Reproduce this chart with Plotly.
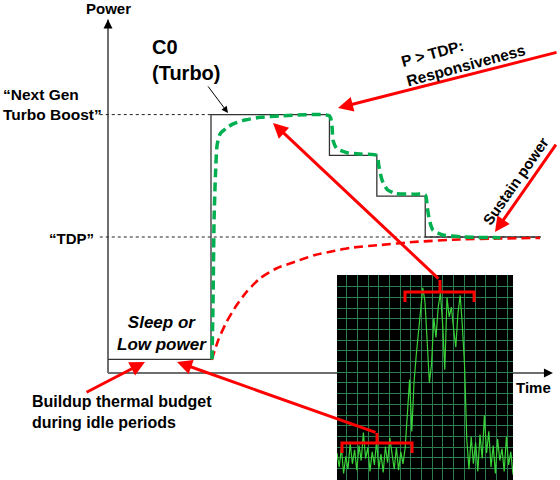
import plotly.graph_objects as go

# ---------------- main diagram data (time units / power units) ----------------
step_t = [0, 10, 10, 21.5, 21.5, 26.1, 26.1, 30.8, 30.8, 42]
step_p = [1, 1, 19, 19, 16, 16, 13, 13, 10, 10]
turbo_level = 19
tdp_level = 10
guide_start = -0.8
guide_turbo_end = 10
guide_tdp_end = 42
axis_t_max = 43
axis_p_max = 26

green_t = [10.1, 10.2, 10.3, 10.45, 10.6, 10.9, 11.5, 12.1, 13.3, 14.8, 16.7, 21.5,
           21.75, 21.85, 22.2, 23.2, 24.5, 26.1, 26.3, 26.6, 27.1, 27.9, 29.6, 30.8,
           31.0, 31.2, 31.55, 32.5, 34.5, 38.1]
green_p = [1.0, 5.4, 11.3, 14.9, 16.8, 17.6, 18.0, 18.3, 18.6, 18.8, 18.9, 18.9,
           18.1, 17.1, 16.5, 16.2, 16.1, 16.0, 15.2, 14.2, 13.5, 13.2, 13.15, 13.1,
           12.2, 11.25, 10.5, 10.15, 10.0, 9.95]

red_t = [10.07, 10.71, 11.52, 12.5, 13.47, 14.76, 16.38, 18.16, 20.1, 22.04, 23.5,
         26.41, 29.61, 34.17, 38.06, 41.94]
red_p = [0.96, 2.43, 3.77, 5.0, 5.98, 6.96, 7.7, 8.18, 8.68, 8.99, 9.2,
         9.41, 9.63, 9.82, 9.89, 9.93]

# ---------------- inset (activity trace) data ----------------
sig = [2.5, 1.2, 3.0, 0.6, 2.2, 1.0, 3.4, 1.5, 2.8, 0.9,
       3.2, 1.8, 4.4, 2.0, 3.0, 0.8, 2.6, 1.4, 3.6, 1.0,
       2.4, 0.7, 3.1, 1.6, 3.9, 2.2, 1.0, 3.0, 0.9, 2.6,
       1.5, 3.0, 6.0, 9.3, 4.5, 9.0, 11.5, 13.5, 16.0, 17.8,
       16.5, 13.0, 9.0, 10.8, 15.0, 13.2, 16.0, 17.3, 14.5, 10.2,
       16.9, 15.1, 16.0, 14.0, 12.3, 15.5, 17.1, 14.2, 10.5, 3.7,
       1.0, 4.0, 1.5, 3.5, 0.8, 4.2, 2.0, 6.0, 2.5, 4.5,
       1.2, 3.2, 0.6, 3.8, 1.8, 2.9, 0.8, 4.0, 1.4, 2.6, 0.5]
sig_idx = list(range(len(sig)))

top_bracket_x = [30.9, 30.9, 62.3, 62.3, None, 46.8, 46.8]
top_bracket_y = [16.48, 17.41, 17.41, 16.48, None, 17.41, 18.52]
bot_bracket_x = [2.27, 2.27, 34.1, 34.1, None, 18.2, 18.2]
bot_bracket_y = [2.5, 3.43, 3.43, 2.5, None, 3.43, 4.35]

W, H = 560, 480
FONT = "Arial, Liberation Sans, sans-serif"
GREEN = "#00b050"
RED = "#ff0000"

fig = go.Figure()

# axes drawn as lines (so the inset can sit on top of the time axis)
fig.add_trace(go.Scatter(x=[0, 0, None, 0, axis_t_max], y=[axis_p_max, 0, None, 0, 0],
                         mode="lines", line=dict(color="#6e6e6e", width=2),
                         hoverinfo="skip", showlegend=False))
# guide levels
fig.add_trace(go.Scatter(x=[guide_start, guide_turbo_end, None, guide_start, guide_tdp_end],
                         y=[turbo_level, turbo_level, None, tdp_level, tdp_level],
                         mode="lines", line=dict(color="#222222", width=1, dash="3px,3px"),
                         hoverinfo="skip", showlegend=False))
# C-state step profile
fig.add_trace(go.Scatter(x=step_t, y=step_p, mode="lines",
                         line=dict(color="#333333", width=1.3),
                         hoverinfo="skip", showlegend=False))
# red (sustained) and green (turbo) dashed curves
fig.add_trace(go.Scatter(x=red_t, y=red_p, mode="lines",
                         line=dict(color=RED, width=2.6, dash="9px,5px", shape="spline", smoothing=0.6),
                         hoverinfo="skip", showlegend=False))
fig.add_trace(go.Scatter(x=green_t, y=green_p, mode="lines",
                         line=dict(color=GREEN, width=3.5, dash="9px,5px", shape="spline", smoothing=0.6),
                         hoverinfo="skip", showlegend=False))

# inset
fig.add_trace(go.Scatter(x=sig_idx, y=sig, xaxis="x2", yaxis="y2", mode="lines",
                         line=dict(color="#3ad33a", width=1.2),
                         hoverinfo="skip", showlegend=False))
fig.add_trace(go.Scatter(x=top_bracket_x, y=top_bracket_y, xaxis="x2", yaxis="y2", mode="lines",
                         line=dict(color=RED, width=3), hoverinfo="skip", showlegend=False))
fig.add_trace(go.Scatter(x=bot_bracket_x, y=bot_bracket_y, xaxis="x2", yaxis="y2", mode="lines",
                         line=dict(color=RED, width=3), hoverinfo="skip", showlegend=False))

# inset background
fig.add_shape(type="rect", xref="x2", yref="y2", x0=0, x1=80, y0=0, y1=18.98,
              fillcolor="black", line=dict(width=0), layer="below")

annotations = []

def arrow(tip, tail, color, width, size=1.0, head=2):
    annotations.append(dict(x=tip[0], y=tip[1], ax=tail[0], ay=tail[1], xref="x", yref="y",
                            axref="x", ayref="y", text="", showarrow=True, arrowhead=head,
                            arrowsize=size, arrowwidth=width, arrowcolor=color,
                            standoff=0, startstandoff=0))

# axis arrowheads
arrow((0, axis_p_max), (0, axis_p_max - 0.5), "black", 1.5, 1.2)
arrow((axis_t_max + 0.2, 0), (axis_t_max - 0.5, 0), "black", 1.5, 1.2)
# callouts
arrow((11.65, 19.12), (9.61, 21.18), "black", 1, 1.3)
arrow((22.33, 19.49), (43.69, 23.6), RED, 3, 1)
arrow((37.57, 10.37), (43.59, 16.91), RED, 3, 1)
arrow((3.59, 0.81), (-2.23, -1.47), RED, 3, 1)
arrow((16.02, 18.38), (32.23, 6.84), RED, 3, 1)
arrow((6.7, 0.81), (26.12, -4.41), RED, 3, 1)

def label(text, px, py, size=15, xanchor="center", align="center", angle=0, italic=False):
    t = "<b>" + (f"<i>{text}</i>" if italic else text) + "</b>"
    annotations.append(dict(x=px / W, y=1 - py / H, xref="paper", yref="paper", text=t,
                            showarrow=False, xanchor=xanchor, yanchor="middle", align=align,
                            textangle=angle, font=dict(family=FONT, size=size, color="black")))

label("Power", 108, 8, 15)
label("C0<br>(Turbo)", 150, 60, 20, xanchor="left", align="left")
label("“Next Gen<br>Turbo Boost”", 1, 104, 15.5, xanchor="left", align="left")
label("“TDP”", 71, 238, 15)
label("Sleep or<br>Low power", 162, 333, 17, italic=True)
label("Buildup thermal budget<br>during idle periods", 30, 412, 16, xanchor="left", align="left")
label("P > TDP:<br>Responsiveness", 463, 55, 15.5, align="left", angle=-15)
label("Sustain power", 515, 181, 15, angle=-55)
label("Time", 533, 387, 15)

fig.update_layout(
    width=W, height=H, margin=dict(l=0, r=0, t=0, b=0, pad=0),
    paper_bgcolor="white", plot_bgcolor="rgba(0,0,0,0)",
    showlegend=False, annotations=annotations,
    xaxis=dict(domain=[0, 1], range=[-108 / 10.3, 452 / 10.3], visible=False, fixedrange=True),
    yaxis=dict(domain=[0, 1], range=[-107 / 13.6, 373 / 13.6], visible=False, fixedrange=True),
    xaxis2=dict(domain=[337 / W, 513 / W], range=[0, 80], anchor="y2", showgrid=True,
                gridcolor="#2e7d4f", gridwidth=1.3, tick0=4.36, dtick=4.868,
                showticklabels=False, ticks="", zeroline=False, showline=False, fixedrange=True),
    yaxis2=dict(domain=[0, 205 / H], range=[0, 18.98], anchor="x2", showgrid=True,
                gridcolor="#2e7d4f", gridwidth=1.3, tick0=0.065, dtick=0.9907,
                showticklabels=False, ticks="", zeroline=False, showline=False, fixedrange=True),
)

fig.write_html("out.html", config={"displayModeBar": False},
               post_script="document.body.style.margin='0';document.body.style.overflow='hidden';")
